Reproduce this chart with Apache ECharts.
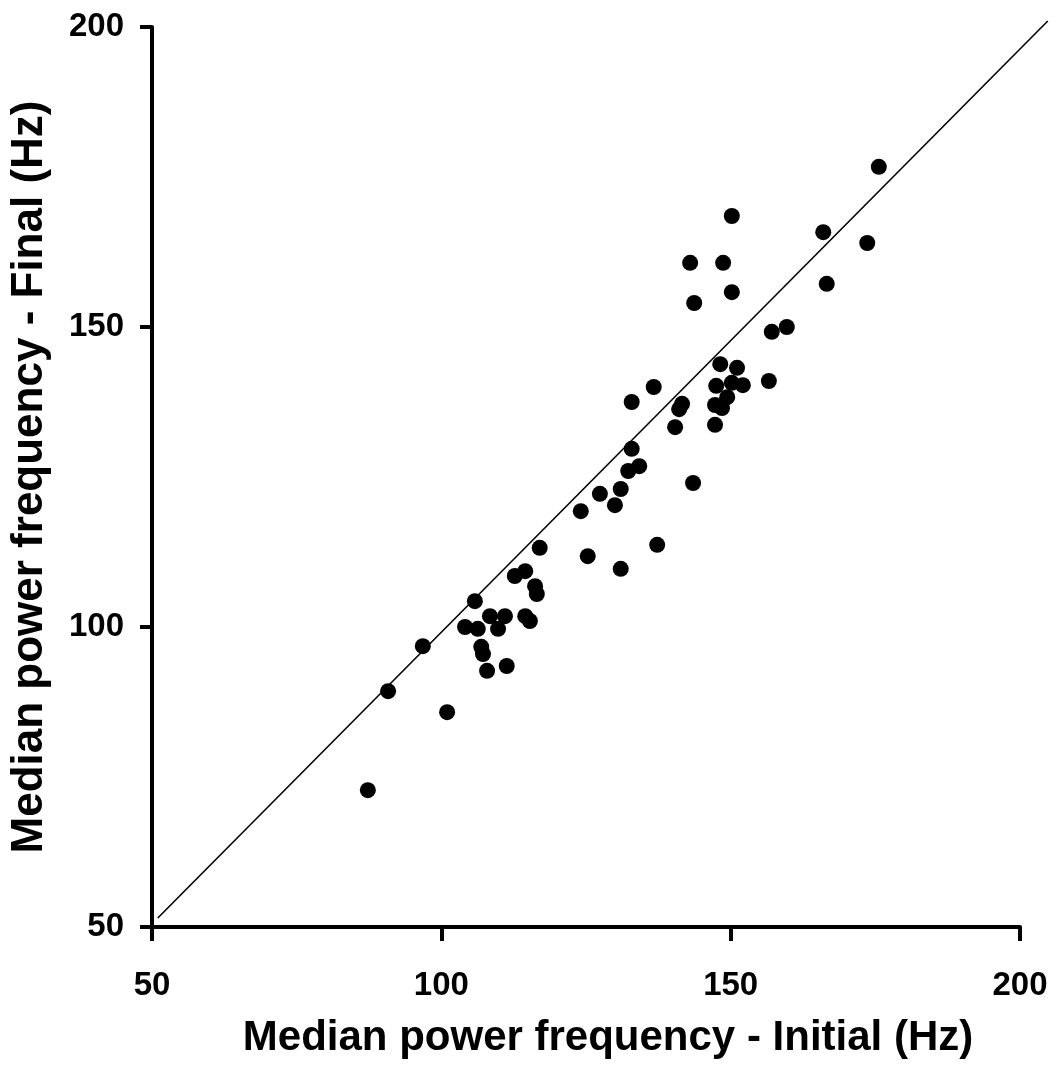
<!DOCTYPE html>
<html>
<head>
<meta charset="utf-8">
<script src="https://cdn.jsdelivr.net/npm/echarts@6/dist/echarts.min.js"></script>
<style>
  html, body { margin: 0; padding: 0; background: #fff; }
  #chart { width: 1055px; height: 1073px; }
</style>
</head>
<body>
<div id="chart"></div>
<script>
var chart = echarts.init(document.getElementById('chart'));

// median power frequency, initial (x) vs final (y), Hz
let initialHz = [
    87.3, 90.8, 96.8, 101.0, 104.1, 105.8, 106.3, 106.9, 107.2, 107.9,
    108.4, 109.8, 111.0, 111.3, 112.7, 114.5, 114.5, 115.3, 116.2, 116.5,
    117.0, 124.1, 125.3, 127.4, 130.0, 131.0, 131.0, 132.3, 132.9, 132.9,
    134.2, 137.3, 136.7, 140.4, 141.1, 141.6, 143.0, 143.7, 143.5, 147.3,
    147.3, 147.5, 148.2, 148.5, 148.7, 149.4, 150.2, 150.2, 150.2, 151.1,
    152.1, 156.6, 157.1, 159.7, 166.0, 166.6, 173.6, 175.6
];
let finalHz = [
    72.8, 89.3, 96.8, 85.8, 100.0, 104.3, 99.7, 96.7, 95.5, 92.7,
    101.8, 99.7, 101.8, 93.5, 108.5, 109.3, 101.8, 101.0, 106.8, 105.5,
    113.2, 119.3, 111.8, 122.2, 120.3, 123.0, 109.7, 126.0, 129.7, 137.5,
    126.8, 113.7, 140.0, 133.3, 136.3, 137.2, 160.7, 154.0, 124.0, 133.7,
    137.0, 140.2, 143.8, 136.5, 160.7, 138.3, 168.5, 155.8, 140.7, 143.2,
    140.3, 141.0, 149.2, 150.0, 165.8, 157.2, 164.0, 176.7
];
// line of identity as drawn in the figure (runs a little past the axis end)
let lineX = [51.0, 204.8];
let lineY = [51.5, 201.0];
let ticks = [50, 100, 150, 200];

let points = initialHz.map((x, i) => [x, finalHz[i]]);

let font = 'Liberation Sans, Arial, sans-serif';

option = {
    backgroundColor: '#ffffff',
    animation: false,
    grid: {
        left: 152,
        right: 35,
        top: 27,
        bottom: 146
    },
    xAxis: {
        type: 'value',
        min: ticks[0],
        max: ticks[ticks.length - 1],
        interval: 50,
        name: 'Median power frequency - Initial (Hz)',
        nameLocation: 'middle',
        nameGap: 90,
        nameTextStyle: {
            fontFamily: font,
            fontWeight: 'bold',
            fontSize: 42,
            color: '#000',
            padding: [0, 0, 0, 44]
        },
        splitLine: { show: false },
        axisLine: { lineStyle: { color: '#000', width: 4 } },
        axisTick: { length: 14, lineStyle: { color: '#000', width: 4 } },
        axisLabel: {
            margin: 42,
            fontFamily: font,
            fontWeight: 'bold',
            fontSize: 33,
            color: '#000'
        }
    },
    yAxis: {
        type: 'value',
        min: ticks[0],
        max: ticks[ticks.length - 1],
        interval: 50,
        name: 'Median power frequency - Final (Hz)',
        nameLocation: 'middle',
        nameGap: 100,
        nameTextStyle: {
            fontFamily: font,
            fontWeight: 'bold',
            fontSize: 44,
            color: '#000'
        },
        splitLine: { show: false },
        axisLine: { lineStyle: { color: '#000', width: 4 } },
        axisTick: { length: 12, lineStyle: { color: '#000', width: 4 } },
        axisLabel: {
            margin: 28,
            fontFamily: font,
            fontWeight: 'bold',
            fontSize: 33,
            color: '#000'
        }
    },
    series: [{
        type: 'custom',
        clip: false,
        silent: true,
        z: 1,
        data: [[lineX[0], lineY[0], lineX[1], lineY[1]]],
        renderItem: function (params, api) {
            var p1 = api.coord([api.value(0), api.value(1)]);
            var p2 = api.coord([api.value(2), api.value(3)]);
            return {
                type: 'line',
                shape: { x1: p1[0], y1: p1[1], x2: p2[0], y2: p2[1] },
                style: { stroke: '#000', lineWidth: 1.6 }
            };
        }
    }, {
        type: 'scatter',
        data: points,
        symbol: 'circle',
        symbolSize: 16,
        z: 3,
        itemStyle: { color: '#000', opacity: 1 }
    }]
};
chart.setOption(option);
</script>
</body>
</html>
